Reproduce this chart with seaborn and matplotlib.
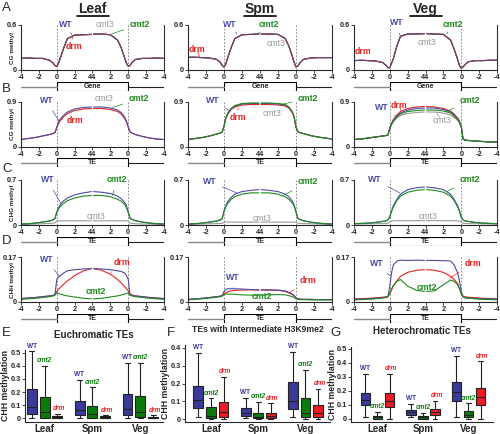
import pandas as pd
import matplotlib
matplotlib.use("Agg")
import matplotlib.pyplot as plt
from matplotlib.patches import Rectangle
import seaborn as sns

sns.set_style("ticks")
plt.rcParams["font.family"] = ["Liberation Sans", "DejaVu Sans"]

# metaplot bins: 4kb upstream | scaled body (two halves) | 4kb downstream
pos_left = [0, 2, 4, 6, 8, 9, 9.5, 10, 10.5, 11, 12, 13, 15, 17.5, 19.7]
pos_right = [20.3, 22.5, 25, 27, 28, 29, 29.5, 30, 30.5, 31, 32, 34, 36, 38, 40]
tick_pos = [0, 5, 10, 15, 20, 25, 30, 35, 40]
tick_labels = ["-4", "-2", "0", "2", "44", "2", "0", "-2", "-4"]

tissues = ["Leaf", "Spm", "Veg"]
genotypes = ["WT", "cmt2", "cmt3", "drm"]

# ---- A: CG methylation over genes (first 15 = left half, last 15 = right half)
cg_gene_leaf = [0.155, 0.16, 0.155, 0.155, 0.13, 0.09, 0.06, 0.045, 0.09, 0.16, 0.30, 0.42, 0.465, 0.47, 0.475,
                0.48, 0.48, 0.47, 0.40, 0.30, 0.16, 0.09, 0.05, 0.06, 0.10, 0.14, 0.155, 0.155, 0.16, 0.155]
cg_gene_spm = [0.17, 0.17, 0.165, 0.16, 0.14, 0.10, 0.06, 0.04, 0.08, 0.16, 0.30, 0.42, 0.47, 0.475, 0.48,
               0.48, 0.48, 0.475, 0.42, 0.32, 0.18, 0.10, 0.04, 0.05, 0.09, 0.14, 0.16, 0.165, 0.165, 0.165]
cg_gene_veg = [0.125, 0.13, 0.125, 0.12, 0.10, 0.06, 0.03, 0.03, 0.09, 0.15, 0.32, 0.45, 0.48, 0.48, 0.485,
               0.485, 0.48, 0.475, 0.40, 0.28, 0.14, 0.06, 0.025, 0.04, 0.07, 0.11, 0.125, 0.125, 0.13, 0.13]

# ---- B: CG methylation over TEs
cg_te_leaf = {
    "WT": [0.15, 0.17, 0.19, 0.22, 0.25, 0.27, 0.29, 0.40, 0.50, 0.56, 0.64, 0.70, 0.76, 0.79, 0.80,
           0.80, 0.80, 0.78, 0.74, 0.69, 0.60, 0.52, 0.40, 0.31, 0.28, 0.25, 0.21, 0.18, 0.16, 0.15],
    "drm": [0.15, 0.17, 0.19, 0.22, 0.25, 0.27, 0.29, 0.38, 0.47, 0.53, 0.61, 0.67, 0.73, 0.76, 0.77,
            0.77, 0.77, 0.75, 0.71, 0.66, 0.57, 0.50, 0.39, 0.30, 0.28, 0.25, 0.21, 0.18, 0.16, 0.15],
}
cg_te_spm = {
    "WT": [0.15, 0.17, 0.19, 0.22, 0.26, 0.28, 0.30, 0.42, 0.58, 0.67, 0.77, 0.82, 0.86, 0.87, 0.87,
           0.87, 0.87, 0.86, 0.84, 0.80, 0.70, 0.60, 0.40, 0.31, 0.29, 0.27, 0.23, 0.20, 0.18, 0.16],
    "cmt2": [0.15, 0.17, 0.19, 0.22, 0.26, 0.28, 0.30, 0.42, 0.58, 0.67, 0.77, 0.83, 0.87, 0.88, 0.88,
             0.88, 0.88, 0.87, 0.85, 0.80, 0.70, 0.60, 0.40, 0.31, 0.29, 0.27, 0.23, 0.20, 0.18, 0.16],
    "drm": [0.15, 0.17, 0.19, 0.22, 0.26, 0.28, 0.30, 0.41, 0.56, 0.65, 0.75, 0.80, 0.84, 0.85, 0.85,
            0.85, 0.85, 0.84, 0.82, 0.78, 0.68, 0.58, 0.39, 0.30, 0.29, 0.27, 0.23, 0.20, 0.18, 0.16],
}
cg_te_veg = {
    "WT": [0.15, 0.16, 0.18, 0.20, 0.22, 0.23, 0.24, 0.38, 0.47, 0.53, 0.62, 0.68, 0.74, 0.77, 0.78,
           0.78, 0.78, 0.75, 0.70, 0.64, 0.56, 0.50, 0.42, 0.16, 0.14, 0.13, 0.12, 0.11, 0.10, 0.10],
    "cmt2": [0.15, 0.16, 0.18, 0.20, 0.22, 0.23, 0.24, 0.37, 0.46, 0.52, 0.60, 0.66, 0.71, 0.73, 0.74,
             0.74, 0.74, 0.72, 0.68, 0.62, 0.55, 0.49, 0.41, 0.16, 0.14, 0.13, 0.12, 0.11, 0.10, 0.10],
    "cmt3": [0.15, 0.16, 0.18, 0.20, 0.22, 0.23, 0.24, 0.36, 0.44, 0.50, 0.58, 0.63, 0.67, 0.69, 0.70,
             0.70, 0.70, 0.68, 0.64, 0.59, 0.53, 0.48, 0.40, 0.16, 0.14, 0.13, 0.12, 0.11, 0.10, 0.10],
    "drm": [0.15, 0.16, 0.18, 0.20, 0.22, 0.23, 0.24, 0.38, 0.48, 0.55, 0.64, 0.71, 0.77, 0.80, 0.81,
            0.81, 0.80, 0.77, 0.72, 0.66, 0.58, 0.52, 0.42, 0.16, 0.14, 0.13, 0.12, 0.11, 0.10, 0.10],
}

# ---- C: CHG methylation over TEs
chg_te_leaf = {
    "WT": [0.015, 0.02, 0.03, 0.045, 0.065, 0.08, 0.10, 0.20, 0.27, 0.32, 0.38, 0.42, 0.47, 0.50, 0.52,
           0.52, 0.51, 0.49, 0.45, 0.41, 0.35, 0.30, 0.20, 0.11, 0.09, 0.07, 0.045, 0.03, 0.02, 0.015],
    "cmt2": [0.015, 0.02, 0.03, 0.045, 0.06, 0.08, 0.10, 0.19, 0.25, 0.29, 0.34, 0.38, 0.42, 0.45, 0.46,
             0.46, 0.46, 0.44, 0.40, 0.37, 0.32, 0.27, 0.19, 0.10, 0.085, 0.065, 0.045, 0.03, 0.02, 0.015],
    "cmt3": [0.01, 0.01, 0.015, 0.02, 0.025, 0.03, 0.03, 0.06, 0.065, 0.065, 0.065, 0.065, 0.065, 0.065, 0.065,
             0.065, 0.065, 0.065, 0.065, 0.065, 0.065, 0.065, 0.06, 0.03, 0.025, 0.02, 0.015, 0.015, 0.01, 0.01],
}
chg_te_spm = {
    "WT": [0.015, 0.02, 0.03, 0.045, 0.065, 0.08, 0.10, 0.22, 0.30, 0.36, 0.43, 0.48, 0.52, 0.54, 0.55,
           0.55, 0.54, 0.52, 0.48, 0.44, 0.37, 0.31, 0.21, 0.11, 0.09, 0.07, 0.045, 0.03, 0.02, 0.015],
    "cmt2": [0.015, 0.02, 0.03, 0.045, 0.06, 0.08, 0.10, 0.21, 0.28, 0.33, 0.40, 0.44, 0.48, 0.50, 0.50,
             0.50, 0.50, 0.48, 0.44, 0.40, 0.34, 0.29, 0.20, 0.10, 0.085, 0.065, 0.045, 0.03, 0.02, 0.015],
    "cmt3": [0.01, 0.012, 0.015, 0.02, 0.022, 0.025, 0.027, 0.04, 0.045, 0.045, 0.045, 0.045, 0.045, 0.045, 0.045,
             0.045, 0.045, 0.045, 0.045, 0.045, 0.045, 0.045, 0.04, 0.027, 0.025, 0.022, 0.02, 0.015, 0.012, 0.01],
}
chg_te_veg = {
    "WT": [0.02, 0.025, 0.03, 0.04, 0.055, 0.065, 0.08, 0.13, 0.22, 0.30, 0.40, 0.48, 0.55, 0.58, 0.59,
           0.59, 0.58, 0.55, 0.48, 0.40, 0.30, 0.22, 0.13, 0.08, 0.065, 0.055, 0.04, 0.03, 0.025, 0.02],
    "cmt2": [0.02, 0.025, 0.03, 0.04, 0.055, 0.065, 0.08, 0.12, 0.21, 0.28, 0.38, 0.45, 0.51, 0.54, 0.55,
             0.55, 0.54, 0.51, 0.45, 0.38, 0.28, 0.21, 0.12, 0.08, 0.065, 0.055, 0.04, 0.03, 0.025, 0.02],
    "cmt3": [0.015, 0.015, 0.018, 0.02, 0.022, 0.025, 0.027, 0.05, 0.06, 0.065, 0.068, 0.068, 0.068, 0.068, 0.068,
             0.068, 0.068, 0.068, 0.068, 0.068, 0.065, 0.06, 0.05, 0.027, 0.025, 0.022, 0.02, 0.018, 0.015, 0.015],
}

# ---- D: CHH methylation over TEs
chh_te_leaf = {
    "WT": [0.013, 0.015, 0.017, 0.02, 0.023, 0.025, 0.027, 0.085, 0.095, 0.10, 0.11, 0.118, 0.122, 0.125, 0.126,
           0.126, 0.125, 0.122, 0.118, 0.115, 0.11, 0.10, 0.085, 0.027, 0.025, 0.023, 0.02, 0.017, 0.015, 0.013],
    "cmt2": [0.01, 0.012, 0.014, 0.017, 0.02, 0.023, 0.026, 0.035, 0.032, 0.03, 0.026, 0.023, 0.019, 0.014, 0.012,
             0.012, 0.014, 0.019, 0.023, 0.026, 0.03, 0.032, 0.035, 0.026, 0.023, 0.02, 0.017, 0.014, 0.012, 0.01],
    "drm": [0.013, 0.015, 0.017, 0.02, 0.023, 0.025, 0.028, 0.04, 0.048, 0.055, 0.068, 0.08, 0.10, 0.118, 0.126,
            0.126, 0.12, 0.105, 0.085, 0.072, 0.058, 0.05, 0.042, 0.03, 0.027, 0.023, 0.02, 0.017, 0.015, 0.013],
}
chh_te_spm = {
    "WT": [0.01, 0.012, 0.014, 0.017, 0.02, 0.022, 0.025, 0.04, 0.048, 0.05, 0.05, 0.05, 0.049, 0.047, 0.046,
           0.046, 0.046, 0.045, 0.042, 0.037, 0.03, 0.024, 0.016, 0.012, 0.011, 0.01, 0.01, 0.009, 0.009, 0.009],
    "cmt2": [0.008, 0.01, 0.012, 0.015, 0.018, 0.02, 0.022, 0.028, 0.03, 0.03, 0.03, 0.029, 0.027, 0.026, 0.026,
             0.026, 0.027, 0.028, 0.027, 0.024, 0.02, 0.017, 0.012, 0.01, 0.009, 0.009, 0.008, 0.008, 0.008, 0.008],
    "drm": [0.01, 0.012, 0.014, 0.017, 0.02, 0.022, 0.024, 0.03, 0.035, 0.038, 0.042, 0.044, 0.045, 0.046, 0.045,
            0.045, 0.045, 0.044, 0.04, 0.034, 0.028, 0.023, 0.015, 0.012, 0.011, 0.01, 0.01, 0.009, 0.009, 0.009],
}
chh_te_veg = {
    "WT": [0.01, 0.011, 0.012, 0.014, 0.016, 0.018, 0.02, 0.06, 0.11, 0.14, 0.155, 0.158, 0.157, 0.158, 0.157,
           0.157, 0.157, 0.156, 0.155, 0.14, 0.11, 0.08, 0.04, 0.02, 0.016, 0.014, 0.013, 0.012, 0.012, 0.012],
    "cmt2": [0.008, 0.009, 0.01, 0.012, 0.015, 0.017, 0.02, 0.035, 0.05, 0.062, 0.078, 0.085, 0.06, 0.044, 0.04,
             0.04, 0.042, 0.065, 0.083, 0.078, 0.065, 0.05, 0.035, 0.02, 0.017, 0.015, 0.012, 0.01, 0.009, 0.008],
    "drm": [0.012, 0.013, 0.014, 0.016, 0.018, 0.02, 0.022, 0.03, 0.045, 0.06, 0.08, 0.097, 0.112, 0.12, 0.122,
            0.122, 0.12, 0.112, 0.097, 0.085, 0.07, 0.05, 0.03, 0.022, 0.02, 0.018, 0.016, 0.014, 0.013, 0.012],
}

# ---- E-G: CHH methylation boxplots, [min, q1, median, q3, max] per tissue
eu_wt = [[0.005, 0.03, 0.085, 0.22, 0.51], [0.005, 0.023, 0.06, 0.13, 0.29], [0.005, 0.023, 0.07, 0.185, 0.42]]
eu_cmt2 = [[0.0, 0.003, 0.05, 0.16, 0.40], [0.0, 0.005, 0.033, 0.096, 0.236], [0.0, 0.01, 0.05, 0.17, 0.42]]
eu_drm = [[0.0, 0.0, 0.008, 0.018, 0.033], [0.0, 0.0, 0.008, 0.015, 0.023], [0.0, 0.0, 0.005, 0.013, 0.023]]

mid_wt = [[0.015, 0.061, 0.108, 0.186, 0.369], [0.005, 0.02, 0.035, 0.065, 0.12], [0.015, 0.056, 0.104, 0.21, 0.378]]
mid_cmt2 = [[0.0, 0.005, 0.018, 0.07, 0.117], [0.0, 0.005, 0.015, 0.035, 0.098], [0.0, 0.015, 0.035, 0.12, 0.275]]
mid_drm = [[0.0, 0.011, 0.042, 0.098, 0.235], [0.0, 0.01, 0.02, 0.035, 0.089], [0.0, 0.011, 0.037, 0.08, 0.17]]

het_wt = [[0.01, 0.095, 0.137, 0.185, 0.318], [0.01, 0.028, 0.045, 0.062, 0.109], [0.01, 0.128, 0.19, 0.26, 0.45]]
het_cmt2 = [[0.0, 0.0, 0.01, 0.021, 0.047], [0.0, 0.0, 0.012, 0.021, 0.043], [0.0, 0.01, 0.024, 0.052, 0.11]]
het_drm = [[0.0, 0.083, 0.128, 0.185, 0.32], [0.0, 0.026, 0.05, 0.069, 0.13], [0.0, 0.10, 0.156, 0.22, 0.41]]

line_colors = {"WT": "#4b4ba3", "cmt2": "#1e8a1e", "cmt3": "#9a9a9a", "drm": "#e42320"}
box_colors = {"WT": "#3a3a98", "cmt2": "#0b7a0b", "drm": "#ee1b22"}

W, H = 500, 434
fig = plt.figure(figsize=(W / 100, H / 100), dpi=100)


def px_axes(x0, x1, y0, y1):
    return fig.add_axes([x0 / W, 1 - y1 / H, (x1 - x0) / W, (y1 - y0) / H])


def profile_frame(profiles):
    rows = []
    for geno, vals in profiles.items():
        for x, y in zip(pos_left, vals[:15]):
            rows.append((geno, "L", x, y))
        for x, y in zip(pos_right, vals[15:]):
            rows.append((geno, "R", x, y))
    return pd.DataFrame(rows, columns=["genotype", "half", "pos", "value"])


def label(ax, geno, txt_xy, target=None):
    c = line_colors[geno]
    weight = "normal" if geno == "cmt3" else "bold"
    if target is None:
        ax.text(*txt_xy, geno, color=c, fontsize=6.3, weight=weight, ha="center", va="center", clip_on=False)
    else:
        ax.annotate(geno, xy=target, xytext=txt_xy, color=c, fontsize=6.3, weight=weight,
                    ha="center", va="center", annotation_clip=False,
                    arrowprops=dict(arrowstyle="-", color=c, lw=0.5, shrinkA=2, shrinkB=0))


col_x = [(21, 164), (188, 332), (354, 497)]
row_specs = [
    # ymax, ylabel, axes y-span, diagram y-span, feature name
    (0.6, "CG methyl", (25, 70), (82, 91), "Gene"),
    (0.9, "CG methyl", (102, 147), (158, 167), "TE"),
    (0.7, "CHG methyl", (180, 225), (237, 246), "TE"),
    (0.17, "CHH methyl", (257, 302), (314, 323), "TE"),
]
panel_data = [
    [{g: cg_gene_leaf for g in genotypes},
     {g: cg_gene_spm for g in genotypes},
     {g: cg_gene_veg for g in genotypes}],
    [cg_te_leaf, cg_te_spm, cg_te_veg],
    [chg_te_leaf, chg_te_spm, chg_te_veg],
    [chh_te_leaf, chh_te_spm, chh_te_veg],
]
draw_orders = [
    ["cmt3", "cmt2", "drm", "WT"],
    ["cmt3", "drm", "WT", "cmt2"],
    ["cmt3", "drm", "WT", "cmt2"],
    ["cmt3", "drm", "WT", "cmt2"],
]

panel_labels = [
    [[("WT", (12.5, 0.60), (14.2, 0.47)), ("drm", (14.7, 0.31), (14.4, 0.44)),
      ("cmt3", (23.6, 0.61), (23.6, 0.49)), ("cmt2", (33.3, 0.61), (25.3, 0.48))],
     [("WT", (11.7, 0.61), (13.6, 0.48)), ("drm", (2.4, 0.27), (3.3, 0.17)),
      ("cmt2", (22.5, 0.61), (19.5, 0.485)), ("cmt3", (24.6, 0.355), (22.3, 0.47))],
     [("WT", (12.0, 0.63), (12.8, 0.47)), ("cmt2", (27.7, 0.61), (25.9, 0.48)),
      ("cmt3", (20.4, 0.36), (19.3, 0.47)), ("drm", (2.5, 0.24), (3.1, 0.135))]],
    [[("WT", (7.1, 0.93), (10.8, 0.50)), ("cmt3", (23.3, 0.97), (21.9, 0.80)),
      ("cmt2", (33.0, 0.97), (25.6, 0.79)), ("drm", (15.0, 0.53), (11.3, 0.56))],
     [("WT", (6.9, 0.93), (11.7, 0.72)), ("drm", (13.9, 0.58), (13.9, 0.78)),
      ("cmt2", (33.4, 0.97), (26.5, 0.86)), ("cmt3", (23.3, 0.67), (22.8, 0.85))],
     [("WT", (7.8, 0.80), (11.9, 0.60)), ("drm", (12.6, 0.84), (13.2, 0.72)),
      ("cmt2", (32.4, 0.93), (25.9, 0.71)), ("cmt3", (24.6, 0.53), (23.1, 0.68))]],
    [[("WT", (7.5, 0.70), (11.2, 0.33)), ("cmt2", (26.8, 0.70), (25.6, 0.46)),
      ("cmt3", (21.1, 0.13), None)],
     [("WT", (6.1, 0.67), (13.5, 0.50)), ("cmt2", (33.3, 0.67), (26.5, 0.46)),
      ("cmt3", (20.5, 0.10), None)],
     [("WT", (5.9, 0.70), (12.8, 0.50)), ("cmt2", (32.4, 0.70), (25.9, 0.52)),
      ("cmt3", (20.7, 0.13), None)]],
    [[("WT", (7.1, 0.16), (10.8, 0.095)), ("drm", (28.3, 0.15), (25.2, 0.112)),
      ("cmt2", (21.0, 0.038), None)],
     [("WT", (12.5, 0.094), (12.6, 0.052)), ("drm", (33.3, 0.082), (28.3, 0.036)),
      ("cmt2", (20.5, 0.02), None)],
     [("WT", (6.4, 0.145), (10.0, 0.10)), ("drm", (33.2, 0.145), (26.8, 0.09)),
      ("cmt2", (20.4, 0.054), None)]],
]

for r, (ymax, ylab, (y0, y1), (d0, d1), feature) in enumerate(row_specs):
    for c, (x0, x1) in enumerate(col_x):
        ax = px_axes(x0, x1, y0, y1)
        df = profile_frame(panel_data[r][c])
        order = [g for g in draw_orders[r] if g in df["genotype"].unique()]
        sns.lineplot(data=df, x="pos", y="value", hue="genotype", hue_order=order, units="half",
                     estimator=None, palette=line_colors, linewidth=0.8, legend=False, ax=ax)
        if r == 0:
            # top (WT) trace semi-transparent so the drm trace shows through, as in the original
            ax.get_lines()[-1].set_alpha(0.75)
            ax.get_lines()[-2].set_alpha(0.75)
        for xv in (10, 30):
            ax.axvline(xv, color="#777777", lw=0.6, ls=(0, (2, 2)), zorder=0)
        ax.set_xlim(0, 40)
        ax.set_ylim(0, ymax)
        ax.set_xticks(tick_pos)
        ax.set_xticklabels(tick_labels)
        ax.set_yticks([0, ymax])
        ax.set_yticklabels(["0", f"{ymax:g}"])
        ax.tick_params(labelsize=5.3, length=2, width=0.6, pad=1)
        for t in ax.get_xticklabels() + ax.get_yticklabels():
            t.set_fontweight("bold")
        ax.set_xlabel("")
        ax.set_ylabel(ylab if c == 0 else "", fontsize=4.6, weight="bold")
        ax.yaxis.set_label_coords(-0.04, 0.5)
        sns.despine(ax=ax, top=True, right=False)
        for s in ("left", "bottom", "right"):
            ax.spines[s].set_linewidth(0.8)
        ax.spines["right"].set_color("#333333")
        for geno, txy, tgt in panel_labels[r][c]:
            label(ax, geno, txy, tgt)

        # gene / TE diagram below the metaplot
        dax = px_axes(x0, x1, d0, d1)
        dax.set_xlim(0, 40)
        dax.set_ylim(0, 1)
        dax.axis("off")
        dax.plot([0, 10], [0.5, 0.5], color="#888888", lw=1.0)
        dax.plot([30, 40], [0.5, 0.5], color="#222222", lw=0.8)
        dax.add_patch(Rectangle((10, 0.05), 20, 0.9, facecolor="white", edgecolor="black", lw=0.8))
        dax.text(20, 0.5, feature, fontsize=5, weight="bold", ha="center", va="center")

# column titles
for name, (x0, x1) in zip(tissues, col_x):
    xc = (x0 + x1) / 2
    fig.text(xc / W, 1 - 9 / H, name, fontsize=10, weight="bold", ha="center", va="center")
    fig.add_artist(plt.Line2D([(xc - 16) / W, (xc + 16) / W], [1 - 15.5 / H] * 2,
                              color="black", lw=1.2, transform=fig.transFigure))

# boxplots
box_specs = [
    ("Euchromatic TEs", (eu_wt, eu_cmt2, eu_drm), (25, 163), (350, 421.7), (-0.026, 0.52),
     [0, 0.1, 0.2, 0.3, 0.4, 0.5], (-0.41, 2.475), 7, -0.11),
    ("TEs with Intermediate H3K9me2", (mid_wt, mid_cmt2, mid_drm), (185, 330), (345, 421.7), (-0.013, 0.415),
     [0, 0.1, 0.2, 0.3, 0.4], (-0.55, 2.52), 6.2, -0.10),
    ("Heterochromatic TEs", (het_wt, het_cmt2, het_drm), (351, 493), (346.7, 421.7), (-0.021, 0.515),
     [0, 0.1, 0.2, 0.3, 0.4, 0.5], (-0.58, 2.54), 7, -0.1),
]
box_genos = ["WT", "cmt2", "drm"]
label_shift = {"WT": -0.27, "cmt2": 0.0, "drm": 0.3}
for title, sets, (x0, x1), (y0, y1), ylim, yticks, xlim, tsize, ylab_x in box_specs:
    rows = []
    for geno, stats in zip(box_genos, sets):
        for tissue, five in zip(tissues, stats):
            for v in five:
                rows.append((tissue, geno, v))
    bdf = pd.DataFrame(rows, columns=["tissue", "genotype", "value"])
    ax = px_axes(x0, x1, y0, y1)
    sns.boxplot(data=bdf, x="tissue", y="value", hue="genotype", order=tissues, hue_order=box_genos,
                palette=box_colors, whis=(0, 100), width=0.8, gap=0.22, linewidth=0.8,
                linecolor="#222222", saturation=1, legend=False, ax=ax)
    ax.set_ylim(*ylim)
    ax.set_xlim(*xlim)
    ax.set_yticks(yticks)
    ax.set_yticklabels(["0"] + [f"{t:g}" for t in yticks[1:]])
    ax.tick_params(axis="y", labelsize=5.3, length=2, width=0.6, pad=1)
    ax.tick_params(axis="x", labelsize=7, length=0, pad=2)
    for t in ax.get_xticklabels() + ax.get_yticklabels():
        t.set_fontweight("bold")
    ax.set_xlabel("")
    ax.set_ylabel("CHH methylation", fontsize=6.3, weight="bold")
    ax.yaxis.set_label_coords(ylab_x, 0.5)
    ax.set_title(title, fontsize=tsize, weight="bold", pad=9)
    sns.despine(ax=ax)
    for s in ("left", "bottom"):
        ax.spines[s].set_linewidth(0.8)
    for geno, stats in zip(box_genos, sets):
        for ti, five in enumerate(stats):
            ax.text(ti + label_shift[geno], five[4] + 0.012 * (ylim[1] - ylim[0]) / 0.5, geno,
                    color=box_colors[geno], fontsize=4.7, weight="bold",
                    style="normal" if geno == "WT" else "italic", ha="center", va="bottom")

# panel letters
for letter, (px, py) in zip("ABCDEFG", [(2, 8), (2, 89), (2, 169), (2, 241),
                                         (2, 333), (167, 333), (330, 333)]):
    fig.text(px / W, 1 - py / H, letter, fontsize=9.5, ha="left", va="center")

fig.savefig("out.png", dpi=100)
